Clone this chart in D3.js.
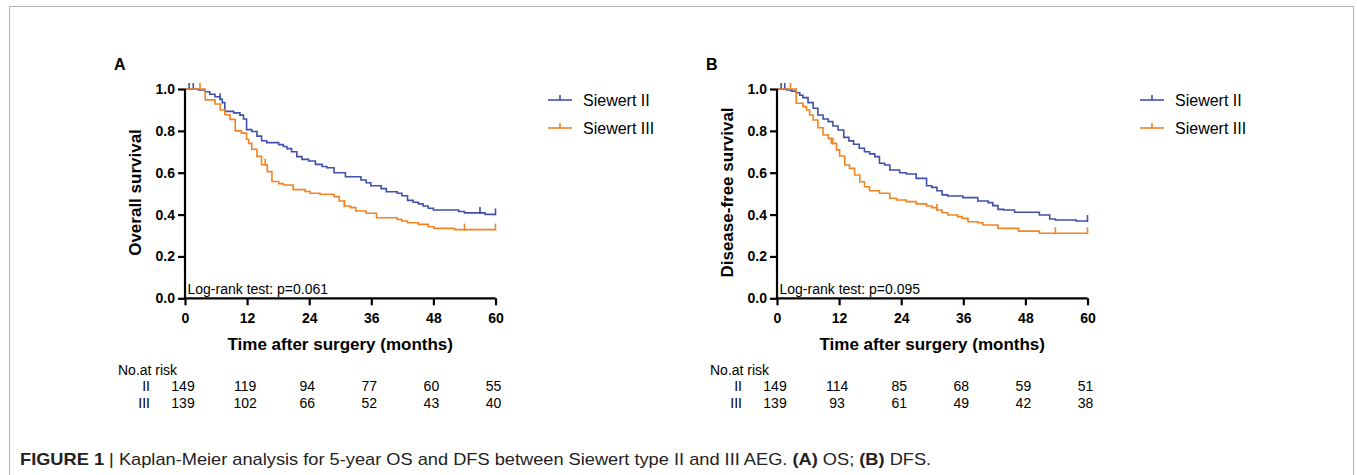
<!DOCTYPE html>
<html>
<head>
<meta charset="utf-8">
<script src="https://cdn.jsdelivr.net/npm/d3@7"></script>
<style>
  html, body { margin: 0; padding: 0; background: #fff; }
  svg { display: block; font-family: "Liberation Sans", Arial, Helvetica, sans-serif; }
</style>
</head>
<body>
<svg id="chart" width="1357" height="475"></svg>
<script>
// ---------------- DATA ----------------
const monthTicks = [0, 12, 24, 36, 48, 60];
const survivalTicks = [0.0, 0.2, 0.4, 0.6, 0.8, 1.0];
const groups = ["Siewert II", "Siewert III"];
const riskRowLabels = ["II", "III"];

// Panel A: overall survival (time in months, survival after step)
const osSiewertII = [[0,1],[2.6,0.995],[3.9,0.987],[4.8,0.975],[5.8,0.963],[6.8,0.951],[7.2,0.935],[7.7,0.893],[9.4,0.886],[10.6,0.875],[11.3,0.857],[11.9,0.806],[12.9,0.797],[13.9,0.775],[14.8,0.753],[15.8,0.744],[18.1,0.734],[19,0.725],[19.7,0.715],[20.6,0.700],[21.6,0.677],[22.6,0.664],[23.9,0.656],[25.2,0.640],[26.5,0.630],[27.4,0.624],[28.8,0.600],[31,0.581],[34,0.565],[35,0.552],[35.9,0.538],[37.9,0.524],[38.9,0.509],[41,0.502],[41.9,0.490],[43,0.468],[44.1,0.459],[45.1,0.451],[46,0.441],[47,0.430],[48,0.422],[52.9,0.415],[54,0.408],[58,0.401],[60,0.401]];
const osSiewertIII = [[0,1],[3.9,0.948],[5.8,0.928],[6.8,0.900],[7.7,0.877],[8.7,0.855],[9.7,0.800],[10.9,0.789],[11.9,0.760],[12.3,0.740],[12.9,0.712],[13.9,0.678],[14.8,0.638],[15.9,0.605],[16.8,0.558],[18.1,0.548],[19,0.541],[20.9,0.519],[23.2,0.510],[24.2,0.502],[26.1,0.497],[28.8,0.486],[29.8,0.465],[30.8,0.441],[32,0.433],[33,0.417],[35,0.406],[37,0.385],[41,0.377],[41.9,0.369],[43,0.361],[45.1,0.353],[47,0.342],[48.1,0.334],[52.1,0.328],[60,0.328]];
const osCensorII = [0.8, 1.6, 6.8, 57, 60];
const osCensorIII = [2.9, 15.5, 30.8, 54, 60];
const osRiskII = [149, 119, 94, 77, 60, 55];
const osRiskIII = [139, 102, 66, 52, 43, 40];

// Panel B: disease-free survival
const dfsSiewertII = [[0,1],[1.9,0.995],[2.8,0.99],[3.7,0.982],[4.4,0.97],[5,0.959],[6,0.935],[7,0.908],[7.9,0.876],[8.9,0.857],[9.9,0.844],[10.8,0.823],[11.8,0.804],[12.9,0.769],[13.9,0.752],[14.8,0.736],[15.9,0.717],[16.9,0.70],[17.9,0.69],[18.9,0.677],[19.8,0.645],[20.8,0.637],[21.8,0.613],[23.7,0.600],[25,0.594],[26.9,0.573],[28.9,0.538],[29.9,0.530],[30.9,0.514],[31.9,0.494],[33,0.489],[35.9,0.481],[38.8,0.465],[40.8,0.457],[41.7,0.443],[42.7,0.425],[43.8,0.422],[45.9,0.411],[50.7,0.398],[52.7,0.379],[53.8,0.374],[57.8,0.369],[60,0.369]];
const dfsSiewertIII = [[0,1],[3.7,0.932],[5,0.916],[5.7,0.90],[6.3,0.876],[7,0.852],[7.9,0.815],[8.9,0.78],[9.9,0.764],[10.5,0.74],[11.5,0.709],[12.1,0.68],[13.1,0.637],[14,0.621],[15,0.589],[16,0.557],[16.9,0.533],[17.9,0.514],[19.8,0.502],[21.8,0.478],[23.1,0.47],[25,0.462],[26.9,0.451],[28.9,0.441],[29.9,0.433],[30.9,0.422],[31.9,0.409],[33,0.398],[34.9,0.39],[35.8,0.382],[36.9,0.366],[38.8,0.361],[39.8,0.350],[42.7,0.334],[46.7,0.321],[50.7,0.311],[60,0.311]];
const dfsCensorII = [0.8, 1.5, 60];
const dfsCensorIII = [2.6, 10.8, 30.9, 53.8, 60];
const dfsRiskII = [149, 114, 85, 68, 59, 51];
const dfsRiskIII = [139, 93, 61, 49, 42, 38];

const panels = [
  { label: "A", yTitle: "Overall survival", pText: "Log-rank test: p=0.061",
    curves: [osSiewertII, osSiewertIII], censors: [osCensorII, osCensorIII], risk: [osRiskII, osRiskIII], dx: 0 },
  { label: "B", yTitle: "Disease-free survival", pText: "Log-rank test: p=0.095",
    curves: [dfsSiewertII, dfsSiewertIII], censors: [dfsCensorII, dfsCensorIII], risk: [dfsRiskII, dfsRiskIII], dx: 592 }
];

const colors = ["#3f51a8", "#f58220"];

// ---------------- DRAW ----------------
const svg = d3.select("#chart");
svg.append("rect").attr("width", 1357).attr("height", 475).attr("fill", "#fff");
svg.append("rect").attr("x", 9.5).attr("y", 6.5).attr("width", 1344).attr("height", 480)
  .attr("fill", "none").attr("stroke", "#b4b4b4").attr("stroke-width", 1);

function stepValue(curve, t) {
  let v = curve[0][1];
  for (const [tt, s] of curve) { if (tt <= t) v = s; }
  return v;
}

panels.forEach(p => {
  const g = svg.append("g").attr("transform", `translate(${p.dx},0)`);
  const x = d3.scaleLinear().domain([0, 60]).range([185, 495.5]);
  const y = d3.scaleLinear().domain([0, 1]).range([298.3, 89]);

  // curves
  const line = d3.line().x(d => x(d[0])).y(d => y(d[1])).curve(d3.curveStepAfter);
  p.curves.forEach((c, i) => {
    g.append("path").attr("d", line(c)).attr("fill", "none")
      .attr("stroke", colors[i]).attr("stroke-width", 1.6);
    p.censors[i].forEach(t => {
      const s = stepValue(c, t);
      g.append("line").attr("x1", x(t)).attr("x2", x(t))
        .attr("y1", y(s) - 6).attr("y2", y(s) + 1)
        .attr("stroke", colors[i]).attr("stroke-width", 1.6);
    });
  });

  // axes
  const yAxis = d3.axisLeft(y).tickValues(survivalTicks).tickFormat(d3.format(".1f")).tickSize(7).tickPadding(3);
  const xAxis = d3.axisBottom(x).tickValues(monthTicks).tickFormat(d3.format("d")).tickSize(7).tickPadding(5);
  const ya = g.append("g").attr("transform", `translate(${x(0)},0)`).call(yAxis);
  const xa = g.append("g").attr("transform", `translate(0,${y(0)})`).call(xAxis);
  [ya, xa].forEach(a => {
    a.select(".domain").attr("stroke", "#000").attr("stroke-width", 2.2);
    a.selectAll(".tick line").attr("stroke", "#000").attr("stroke-width", 2.2);
    a.selectAll(".tick text").attr("fill", "#000").attr("font-size", 14).attr("font-weight", "bold")
      .attr("font-family", '"Liberation Sans", Arial, sans-serif');
  });
  ya.select(".domain").attr("d", `M0,${y(0)}V${y(1)}`);
  xa.select(".domain").attr("d", `M${x(0)},0H${x(60)}`);
  xa.selectAll(".tick text").attr("dy", null).attr("y", 25);

  // titles
  g.append("text").attr("x", 114).attr("y", 70).attr("font-size", 16).attr("font-weight", "bold").text(p.label);
  g.append("text").attr("transform", `translate(141,${192.5}) rotate(-90)`).attr("text-anchor", "middle")
    .attr("font-size", 17).attr("font-weight", "bold").text(p.yTitle);
  g.append("text").attr("x", (x(0) + x(60)) / 2).attr("y", 349.5).attr("text-anchor", "middle")
    .attr("font-size", 17).attr("font-weight", "bold").text("Time after surgery (months)");
  g.append("text").attr("x", 187.5).attr("y", 294).attr("font-size", 14).text(p.pText);

  // legend
  groups.forEach((name, i) => {
    const ly = 100 + i * 28;
    g.append("line").attr("x1", 548).attr("x2", 572).attr("y1", ly).attr("y2", ly)
      .attr("stroke", colors[i]).attr("stroke-width", 1.6);
    g.append("line").attr("x1", 560).attr("x2", 560).attr("y1", ly - 5).attr("y2", ly)
      .attr("stroke", colors[i]).attr("stroke-width", 1.6);
    g.append("text").attr("x", 583).attr("y", ly + 6).attr("font-size", 16).text(name);
  });

  // risk table
  g.append("text").attr("x", 118).attr("y", 375).attr("font-size", 14).text("No.at risk");
  p.risk.forEach((row, i) => {
    const ry = 391 + i * 17;
    g.append("text").attr("x", 150).attr("y", ry).attr("text-anchor", "end").attr("font-size", 14).text(riskRowLabels[i]);
    row.forEach((v, j) => {
      g.append("text").attr("x", x(monthTicks[j]) - 2).attr("y", ry).attr("text-anchor", "middle")
        .attr("font-size", 14).text(v);
    });
  });
});

// caption
const cap = svg.append("text").attr("font-size", 16).attr("fill", "#222");
const parts = [
  ["FIGURE 1", "bold"], [" | Kaplan-Meier analysis for 5-year OS and DFS between Siewert type II and III AEG. ", "normal"],
  ["(A)", "bold"], [" OS; ", "normal"], ["(B)", "bold"], [" DFS.", "normal"]
];
parts.forEach(([t, w]) => cap.append("tspan").attr("font-weight", w).text(t));
const w = cap.node().getComputedTextLength();
cap.attr("transform", `translate(20,465) scale(${912 / w},1)`);
</script>
</body>
</html>
